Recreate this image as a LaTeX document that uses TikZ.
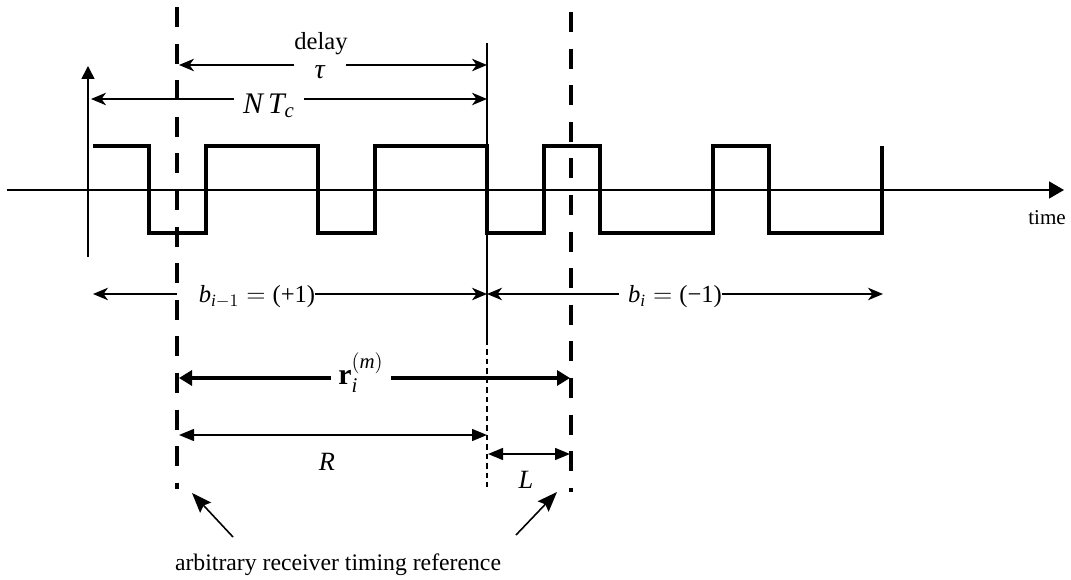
\documentclass[tikz,border=0pt]{standalone}
\usepackage{amsmath,amssymb}
\usepackage{fontspec}
\setmainfont{Liberation Serif}
\usetikzlibrary{positioning,calc,arrows.meta}

\begin{document}
\begin{tikzpicture}[x=0.02cm,y=-0.02cm,font=\fontsize{12}{14}\selectfont,
  axis/.style={line width=0.9pt},
  chips/.style={line width=2.3pt},
  timeref/.style={line width=2.4pt,dash pattern=on 0.4cm off 0.332cm},
  bitedge/.style={line width=0.8pt},
  spanarrow/.style={line width=0.8pt,-{Stealth[length=0.3cm,width=0.25cm,inset=0.09cm]}},
  solidspan/.style={line width=0.8pt,{Triangle[length=0.3cm,width=0.24cm]}-{Triangle[length=0.3cm,width=0.24cm]}},
  vecspan/.style={line width=2.3pt,-{Triangle[length=0.26cm,width=0.3cm]}},
  pointer/.style={line width=0.9pt,-{Stealth[length=0.4cm,width=0.3cm,inset=0.06cm]}},
  lab/.style={inner sep=0pt},
  mathlab/.style={inner sep=0pt,font=\fontsize{14}{16}\selectfont}]
\useasboundingbox (0,0) rectangle (1071,580);
\coordinate (tL) at (7,190);
\coordinate (tR) at (1064,190);
\coordinate (yB) at (88,257);
\coordinate (yT) at (88,66);
\coordinate (refA) at (177,7);
\coordinate (refAend) at (177,489);
\coordinate (refB) at (571,12);
\coordinate (refBend) at (571,492);
\coordinate (edgeT) at (487,43);
\coordinate (edgeM) at (487,340);
\coordinate (edgeB) at (487,487);
\draw[axis,-{Triangle[length=0.3cm,width=0.34cm]}] (tL) -- (tR);
\draw[axis,-{Triangle[length=0.26cm,width=0.26cm]}] (yB) -- (yT);
\draw[chips] (93,146) -| (149,233) -| (206,146) -| (318,233) -| (375,146) -| (487,233) -| (544,146) -| (600,233) -| (713,146) -| (769,233) -| (882,146);
\draw[timeref] (refA) -- (refAend);
\draw[timeref] (refB) -- (refBend);
\draw[bitedge] (edgeT) -- (edgeM);
\draw[bitedge,dash pattern=on 0.11cm off 0.08cm] (edgeM) -- (edgeB);
\node (time) at (1047,218) {time};
\coordinate (dL) at (179,65);
\coordinate (dR) at (487,65);
\node[lab] (delay) at (321,44) {\fontsize{14}{16}\selectfont delay};
\node[mathlab,font=\fontsize{16}{18}\selectfont,minimum width=1.04cm] (tau) at (320,72) {\textit{τ}};
\draw[spanarrow] (tau.west |- dL) -- (dL);
\draw[spanarrow] (tau.east |- dR) -- (dR);
\coordinate (nL) at (91,99);
\coordinate (nR) at (487,99);
\node[mathlab,font=\fontsize{17}{19}\selectfont,minimum width=1.4cm] (ntc) at (269,106) {$\textit{N}\,\textit{T}_{\textit{c}}$};
\draw[spanarrow] (ntc.west |- nL) -- (nL);
\draw[spanarrow] (ntc.east |- nR) -- (nR);
\coordinate (b1L) at (93,294);
\coordinate (bmid) at (487,294);
\coordinate (b2R) at (883,294);
\node[mathlab] (bprev) at (257,297) {$\textit{b}_{\textit{i}-1} = \text{(+1)}$};
\node[mathlab] (bnext) at (675,297) {$\textit{b}_{\textit{i}} = \text{(−1)}$};
\draw[spanarrow] (refA |- b1L) -- (b1L);
\draw[spanarrow] (bprev.east |- bmid) -- (bmid);
\draw[spanarrow,shorten <=0.18cm] (bnext.west |- bmid) -- (bmid);
\draw[spanarrow] (bnext.east |- b2R) -- (b2R);
\coordinate (rL) at (179,378);
\coordinate (rR) at (570,378);
\node[mathlab,font=\fontsize{17}{19}\selectfont,minimum width=1.18cm] (rvec) at (361,373) {$\textbf{r}_{\textit{i}}^{(\textit{m})}$};
\draw[vecspan] (rvec.west |- rL) -- (rL);
\draw[vecspan] (rvec.east |- rR) -- (rR);
\coordinate (RL) at (179,435);
\coordinate (RR) at (487,435);
\draw[solidspan] (RL) -- (RR);
\node (Rlab) at (327,462) {\fontsize{15}{17}\selectfont\textit{R}};
\coordinate (LL) at (488,454);
\coordinate (LR) at (570,454);
\draw[solidspan] (LL) -- (LR);
\node (Llab) at (526,480) {\fontsize{15}{17}\selectfont\textit{L}};
\node (arb) at (338,565) {\fontsize{13.5}{16}\selectfont arbitrary receiver timing reference};
\coordinate (ptrA) at (233,537);
\coordinate (tipA) at (192,493);
\coordinate (ptrB) at (516,535);
\coordinate (tipB) at (557,492);
\draw[pointer] (ptrA) -- (tipA);
\draw[pointer] (ptrB) -- (tipB);
\end{tikzpicture}
\end{document}
